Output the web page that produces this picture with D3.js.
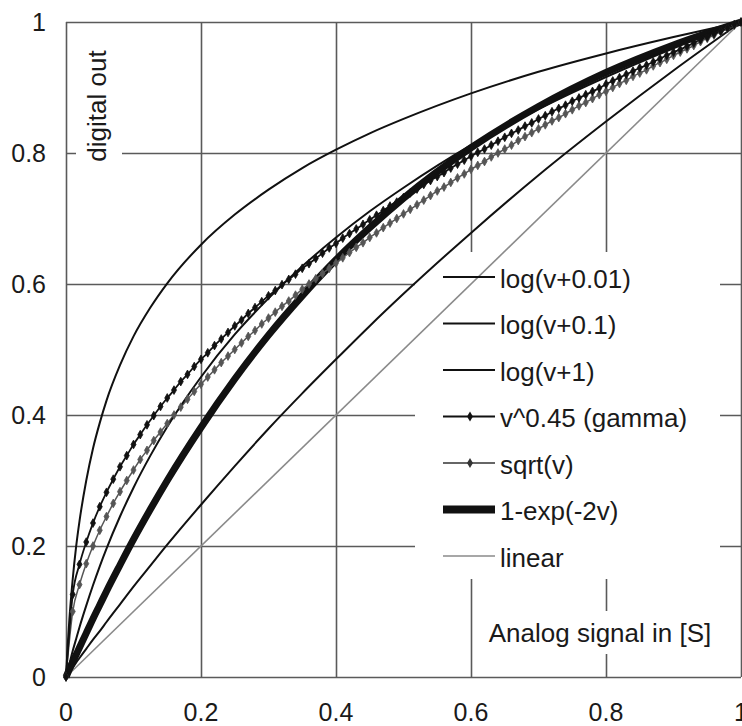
<!DOCTYPE html>
<html>
<head>
<meta charset="utf-8">
<script src="https://cdn.jsdelivr.net/npm/d3@7"></script>
<style>
  html, body { margin: 0; padding: 0; background: #fff; }
  svg { display: block; }
  text { font-family: "Liberation Sans", Arial, Helvetica, sans-serif; fill: #1a1a1a; }
</style>
</head>
<body>
<svg id="chart" width="742" height="726"></svg>
<script>
// ---------- data ----------
const xTicks = [0, 0.2, 0.4, 0.6, 0.8, 1];
const yTicks = [0, 0.2, 0.4, 0.6, 0.8, 1];
const xTickLabels = ["0", "0.2", "0.4", "0.6", "0.8", "1"];
const yTickLabels = ["0", "0.2", "0.4", "0.6", "0.8", "1"];

// shared x for the smooth curves
const vSmooth = [0, 0.0025, 0.005, 0.01, 0.015, 0.02, 0.03, 0.04, 0.05, 0.06, 0.08, 0.1, 0.125, 0.15, 0.2, 0.25, 0.3, 0.35, 0.4, 0.45, 0.5, 0.6, 0.7, 0.8, 0.9, 1.0];
const logV001 = [0, 0.048, 0.088, 0.150, 0.199, 0.238, 0.300, 0.349, 0.388, 0.422, 0.476, 0.520, 0.564, 0.601, 0.660, 0.706, 0.744, 0.777, 0.805, 0.830, 0.852, 0.891, 0.924, 0.952, 0.977, 1];
const logV01 = [0, 0.010, 0.020, 0.040, 0.058, 0.076, 0.109, 0.140, 0.169, 0.196, 0.245, 0.289, 0.338, 0.382, 0.458, 0.523, 0.578, 0.627, 0.671, 0.711, 0.747, 0.812, 0.867, 0.916, 0.960, 1];
const logV1 = [0, 0.004, 0.007, 0.014, 0.022, 0.029, 0.043, 0.057, 0.070, 0.084, 0.111, 0.138, 0.170, 0.202, 0.263, 0.322, 0.379, 0.433, 0.485, 0.536, 0.585, 0.678, 0.766, 0.848, 0.926, 1];
const expCurve = [0, 0.006, 0.012, 0.023, 0.034, 0.045, 0.067, 0.089, 0.110, 0.131, 0.171, 0.210, 0.256, 0.300, 0.381, 0.455, 0.522, 0.582, 0.637, 0.686, 0.731, 0.808, 0.871, 0.923, 0.965, 1];
const linearX = [0, 1];
const linearY = [0, 1];

// marker series, sampled every 0.01
const vMarked = [0,0.01,0.02,0.03,0.04,0.05,0.06,0.07,0.08,0.09,0.10,0.11,0.12,0.13,0.14,0.15,0.16,0.17,0.18,0.19,0.20,0.21,0.22,0.23,0.24,0.25,0.26,0.27,0.28,0.29,0.30,0.31,0.32,0.33,0.34,0.35,0.36,0.37,0.38,0.39,0.40,0.41,0.42,0.43,0.44,0.45,0.46,0.47,0.48,0.49,0.50,0.51,0.52,0.53,0.54,0.55,0.56,0.57,0.58,0.59,0.60,0.61,0.62,0.63,0.64,0.65,0.66,0.67,0.68,0.69,0.70,0.71,0.72,0.73,0.74,0.75,0.76,0.77,0.78,0.79,0.80,0.81,0.82,0.83,0.84,0.85,0.86,0.87,0.88,0.89,0.90,0.91,0.92,0.93,0.94,0.95,0.96,0.97,0.98,0.99,1.00];
const gamma045 = [0,0.126,0.172,0.206,0.235,0.260,0.282,0.302,0.321,0.338,0.355,0.370,0.385,0.399,0.413,0.426,0.438,0.451,0.462,0.474,0.485,0.495,0.506,0.516,0.526,0.536,0.545,0.555,0.564,0.573,0.582,0.590,0.599,0.607,0.615,0.624,0.631,0.639,0.647,0.655,0.662,0.670,0.677,0.684,0.691,0.698,0.705,0.712,0.719,0.725,0.732,0.739,0.745,0.752,0.758,0.764,0.770,0.777,0.783,0.789,0.795,0.801,0.806,0.812,0.818,0.824,0.830,0.835,0.841,0.846,0.852,0.857,0.863,0.868,0.873,0.879,0.884,0.889,0.894,0.899,0.905,0.910,0.915,0.920,0.925,0.930,0.934,0.939,0.944,0.949,0.954,0.958,0.963,0.968,0.973,0.977,0.982,0.986,0.991,0.996,1];
const sqrtV = [0,0.100,0.141,0.173,0.200,0.224,0.245,0.265,0.283,0.300,0.316,0.332,0.346,0.361,0.374,0.387,0.400,0.412,0.424,0.436,0.447,0.458,0.469,0.480,0.490,0.500,0.510,0.520,0.529,0.539,0.548,0.557,0.566,0.574,0.583,0.592,0.600,0.608,0.616,0.624,0.632,0.640,0.648,0.656,0.663,0.671,0.678,0.686,0.693,0.700,0.707,0.714,0.721,0.728,0.735,0.742,0.748,0.755,0.762,0.768,0.775,0.781,0.787,0.794,0.800,0.806,0.812,0.819,0.825,0.831,0.837,0.843,0.849,0.854,0.860,0.866,0.872,0.877,0.883,0.889,0.894,0.900,0.906,0.911,0.917,0.922,0.927,0.933,0.938,0.943,0.949,0.954,0.959,0.964,0.970,0.975,0.980,0.985,0.990,0.995,1];

const seriesNames = ["log(v+0.01)", "log(v+0.1)", "log(v+1)", "v^0.45 (gamma)", "sqrt(v)", "1-exp(-2v)", "linear"];
const xTitle = "Analog signal in [S]";
const yTitle = "digital out";

// ---------- drawing ----------
const svg = d3.select("#chart");
svg.append("rect").attr("width", 742).attr("height", 726).attr("fill", "#fff");

const x = d3.scaleLinear().domain([0, 1]).range([66, 741]);
const y = d3.scaleLinear().domain([0, 1]).range([677, 22]);

const grid = svg.append("g");
// gridlines (through d3 axes with full-length ticks)
grid.append("g")
  .attr("transform", `translate(0,${y(0)})`)
  .call(d3.axisBottom(x).tickValues(xTicks).tickSize(-(y(0) - y(1))).tickFormat(""))
  .call(g => g.select(".domain").remove())
  .call(g => g.selectAll("line").attr("stroke", "#5a5a5a").attr("stroke-width", 1.6));
grid.append("g")
  .attr("transform", `translate(${x(0)},0)`)
  .call(d3.axisLeft(y).tickValues(yTicks).tickSize(-(x(1) - x(0))).tickFormat(""))
  .call(g => g.select(".domain").remove())
  .call(g => g.selectAll("line").attr("stroke", "#5a5a5a").attr("stroke-width", 1.6));

// white panels behind the legend and the axis titles (they hide gridlines)
svg.append("rect").attr("x", 415).attr("y", 252).attr("width", 305).attr("height", 327).attr("fill", "#fff");
svg.append("rect").attr("x", 480).attr("y", 611).attr("width", 240).attr("height", 43).attr("fill", "#fff");
svg.append("rect").attr("x", 76).attr("y", 45).attr("width", 46).attr("height", 124).attr("fill", "#fff");

// tick labels
svg.append("g").selectAll("text").data(xTicks).join("text")
  .attr("x", d => x(d)).attr("y", 721)
  .attr("text-anchor", "middle").attr("font-size", 25)
  .text((d, i) => xTickLabels[i]);
svg.append("g").selectAll("text").data(yTicks).join("text")
  .attr("x", 46).attr("y", d => y(d)).attr("dy", "0.36em")
  .attr("text-anchor", "end").attr("font-size", 25)
  .text((d, i) => yTickLabels[i]);

// curves
const line = d3.line().x(d => x(d[0])).y(d => y(d[1])).curve(d3.curveMonotoneX);
const zip = (xs, ys) => xs.map((v, i) => [v, ys[i]]);

const plot = svg.append("g");
plot.append("path").datum(zip(linearX, linearY)).attr("d", line)
  .attr("fill", "none").attr("stroke", "#8a8a8a").attr("stroke-width", 1.6);
plot.append("path").datum(zip(vSmooth, logV1)).attr("d", line)
  .attr("fill", "none").attr("stroke", "#111").attr("stroke-width", 2);
plot.append("path").datum(zip(vSmooth, expCurve)).attr("d", line)
  .attr("fill", "none").attr("stroke", "#111").attr("stroke-width", 7);
plot.append("path").datum(zip(vMarked, sqrtV)).attr("d", line)
  .attr("fill", "none").attr("stroke", "#555").attr("stroke-width", 1.5);
plot.append("path").datum(zip(vSmooth, logV01)).attr("d", line)
  .attr("fill", "none").attr("stroke", "#111").attr("stroke-width", 2);
plot.append("path").datum(zip(vMarked, gamma045)).attr("d", line)
  .attr("fill", "none").attr("stroke", "#111").attr("stroke-width", 1.8);
plot.append("path").datum(zip(vSmooth, logV001)).attr("d", line)
  .attr("fill", "none").attr("stroke", "#111").attr("stroke-width", 2);

const diamond = d3.symbol().type(d3.symbolDiamond).size(22);
plot.append("g").selectAll("path").data(zip(vMarked, sqrtV)).join("path")
  .attr("d", diamond).attr("transform", d => `translate(${x(d[0])},${y(d[1])})`)
  .attr("fill", "#555").attr("stroke", "#555").attr("stroke-width", 0.8);
plot.append("g").selectAll("path").data(zip(vMarked, gamma045)).join("path")
  .attr("d", diamond).attr("transform", d => `translate(${x(d[0])},${y(d[1])})`)
  .attr("fill", "#111").attr("stroke", "#111").attr("stroke-width", 0.8);

// legend
const legendStyles = [
  { stroke: "#111", w: 2 },
  { stroke: "#111", w: 2 },
  { stroke: "#111", w: 2 },
  { stroke: "#111", w: 2, marker: "#111" },
  { stroke: "#333", w: 1.6, marker: "#333" },
  { stroke: "#111", w: 8 },
  { stroke: "#8a8a8a", w: 1.6 }
];
const leg = svg.append("g");
seriesNames.forEach((name, i) => {
  const ly = 277 + i * 46.5;
  const st = legendStyles[i];
  leg.append("line").attr("x1", 443).attr("x2", 495).attr("y1", ly).attr("y2", ly)
    .attr("stroke", st.stroke).attr("stroke-width", st.w);
  if (st.marker) {
    leg.append("path").attr("d", d3.symbol().type(d3.symbolDiamond).size(30)())
      .attr("transform", `translate(470,${ly})`).attr("fill", st.marker);
  }
  leg.append("text").attr("x", 500).attr("y", ly + 10.5).attr("font-size", 26).text(name);
});

// axis titles
svg.append("text").attr("x", 600).attr("y", 642).attr("text-anchor", "middle")
  .attr("font-size", 26).text(xTitle);
svg.append("text").attr("transform", "translate(106,106) rotate(-90)")
  .attr("text-anchor", "middle").attr("font-size", 26).text(yTitle);
</script>
</body>
</html>
